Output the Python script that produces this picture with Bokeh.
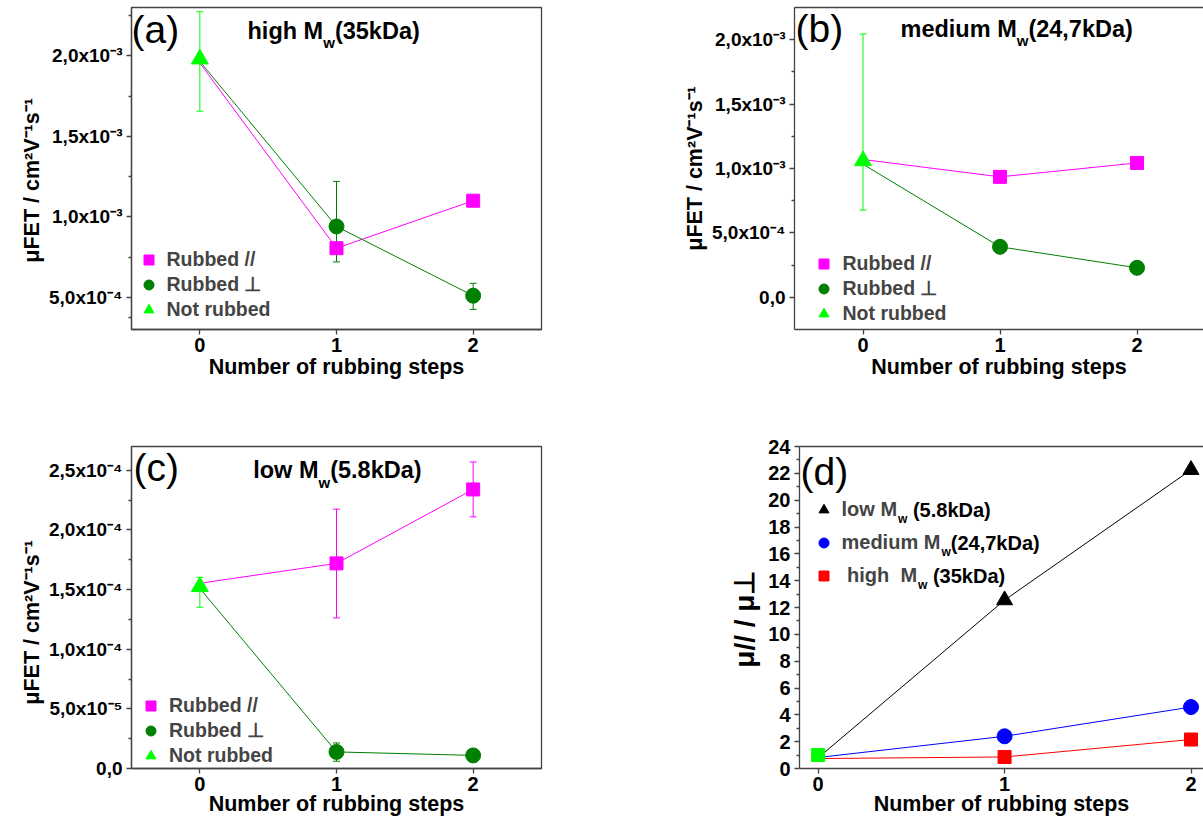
import math
from bokeh.plotting import figure
from bokeh.models import (Range1d, LinearAxis, FixedTicker, Whisker, TeeHead,
                          ColumnDataSource, Legend, LegendItem, Label)
from bokeh.layouts import row, column
from bokeh.embed import file_html
from bokeh.resources import INLINE

# ---------------- data ----------------
steps = [0, 1, 2]
x_labels = ["0", "1", "2"]

# (a) high Mw (35 kDa)
a_par = [1.955e-3, 8.05e-4, 1.10e-3]
a_perp = [1.965e-3, 9.40e-4, 5.10e-4]
a_perp_up = [0.0, 2.80e-4, 7.7e-5]
a_perp_dn = [0.0, 2.20e-4, 8.5e-5]
a_not = [1.98e-3]
a_not_up = [2.94e-4]
a_not_dn = [3.24e-4]
a_yticks = [5e-4, 1e-3, 1.5e-3, 2e-3]
a_ytick_labels = ["5,0x10⁻⁴", "1,0x10⁻³", "1,5x10⁻³", "2,0x10⁻³"]
a_yminor = [3.75e-4, 7.5e-4, 1.25e-3, 1.75e-3, 2.25e-3]

# (b) medium Mw (24,7 kDa)
b_par = [1.070e-3, 9.35e-4, 1.043e-3]
b_perp = [1.033e-3, 3.92e-4, 2.29e-4]
b_perp_up = [0.0, 1.5e-5, 3.5e-5]
b_perp_dn = [0.0, 1.5e-5, 3.5e-5]
b_not = [1.06e-3]
b_not_up = [9.84e-4]
b_not_dn = [3.83e-4]
b_yticks = [0.0, 5e-4, 1e-3, 1.5e-3, 2e-3]
b_ytick_labels = ["0,0", "5,0x10⁻⁴", "1,0x10⁻³", "1,5x10⁻³", "2,0x10⁻³"]
b_yminor = [2.5e-4, 7.5e-4, 1.25e-3, 1.75e-3]

# (c) low Mw (5.8 kDa)
c_par = [1.553e-4, 1.72e-4, 2.34e-4]
c_par_up = [0.0, 4.55e-5, 2.3e-5]
c_par_dn = [0.0, 4.57e-5, 2.3e-5]
c_perp = [1.51e-4, 1.39e-5, 1.1e-5]
c_perp_up = [0.0, 7.5e-6, 0.0]
c_perp_dn = [0.0, 7.8e-6, 0.0]
c_not = [1.525e-4]
c_not_up = [7.8e-6]
c_not_dn = [1.73e-5]
c_yticks = [0.0, 5e-5, 1e-4, 1.5e-4, 2e-4, 2.5e-4]
c_ytick_labels = ["0,0", "5,0x10⁻⁵", "1,0x10⁻⁴", "1,5x10⁻⁴", "2,0x10⁻⁴", "2,5x10⁻⁴"]
c_yminor = [2.5e-5, 7.5e-5, 1.25e-4, 1.75e-4, 2.25e-4]

# (d) anisotropy ratio mu// / mu_perp
d_low = [0.80, 12.55, 22.26]
d_med = [0.82, 2.40, 4.58]
d_high = [0.74, 0.86, 2.16]
d_start = [1.0]
d_yticks = [0, 2, 4, 6, 8, 10, 12, 14, 16, 18, 20, 22, 24]
d_ytick_labels = ["0", "2", "4", "6", "8", "10", "12", "14", "16", "18", "20", "22", "24"]
d_yminor = [1, 3, 5, 7, 9, 11, 13, 15, 17, 19, 21, 23]

# ---------------- style ----------------
FONT = "Liberation Sans"
AX = "#444444"
MAG = "#FF00FF"
DGREEN = "#008000"
LIME = "#00FF00"
NB = "\u00a0"
XTITLE = "Number of rubbing steps"
YTITLE = "μFET / cm²V⁻¹s⁻¹"

W = {' ': 278, NB: 278, '(': 333, ')': 333, ',': 278, '.': 278, 'a': 556, 'd': 611,
     'e': 556, 'g': 611, 'h': 611, 'i': 278, 'k': 556, 'l': 278, 'm': 889,
     'o': 611, 'u': 611, 'w': 778, 'D': 722, 'M': 833}


def tw(s, size):
    return sum(W.get(c, 556) for c in s) * size / 1000.0


def to_data(g, px, py):
    x = g["x0"] + (px - g["L"]) / (g["R"] - g["L"]) * (g["x1"] - g["x0"])
    y = g["y1"] - (py - g["T"]) / (g["B"] - g["T"]) * (g["y1"] - g["y0"])
    return x, y


def txt(p, g, px, py, text, size, bold=True, align="left"):
    x, y = to_data(g, px, py)
    p.add_layout(Label(x=x, y=y, text=text, text_font=FONT, text_font_size=f"{size}px",
                       text_font_style="bold" if bold else "normal", text_color="black",
                       text_align=align, text_baseline="middle"))


def pieces(p, g, px, py, parts):
    """parts: list of (text, size, dy); py is the vertical middle of the main text"""
    x = px
    for t, s, dy in parts:
        txt(p, g, x, py + dy, t, s)
        x += tw(t, s)


def make_fig(g, w, h, L, R, T, B, outline=True):
    p = figure(width=w, height=h, x_range=Range1d(g["x0"], g["x1"]),
               y_range=Range1d(g["y0"], g["y1"]), output_backend="svg",
               toolbar_location=None, x_axis_type=None, y_axis_type=None,
               min_border_left=L, min_border_right=R, min_border_top=T, min_border_bottom=B)
    p.background_fill_color = "white"
    p.border_fill_color = "white"
    if outline:
        p.outline_line_color = AX
        p.outline_line_width = 1.3
    else:
        p.outline_line_color = None
    return p


def style_axis(ax):
    ax.axis_line_color = AX
    ax.axis_line_width = 1.3
    ax.major_tick_line_color = AX
    ax.major_tick_line_width = 1.3
    ax.minor_tick_line_color = AX
    ax.minor_tick_line_width = 1.3
    ax.major_tick_in = 0
    ax.minor_tick_in = 0
    ax.major_label_text_font = FONT
    ax.major_label_text_font_style = "bold"
    ax.major_label_text_color = "black"
    ax.axis_label_text_font = FONT
    ax.axis_label_text_font_style = "bold"
    ax.axis_label_text_color = "black"


def add_axes(p, yticks, ylabels, yminor, ytitle, ytitle_size, ytick_size,
             ytitle_standoff, xtitle_standoff, top=False):
    xa = LinearAxis(ticker=FixedTicker(ticks=steps, minor_ticks=[]),
                    major_label_overrides=dict(zip(steps, x_labels)),
                    axis_label=XTITLE)
    style_axis(xa)
    xa.major_label_text_font_size = "20px"
    xa.major_tick_out = 5
    xa.major_label_standoff = 3
    xa.axis_label_text_font_size = "21.5px"
    xa.axis_label_standoff = xtitle_standoff
    p.add_layout(xa, "below")

    ya = LinearAxis(ticker=FixedTicker(ticks=yticks, minor_ticks=yminor),
                    major_label_overrides=dict(zip(yticks, ylabels)),
                    axis_label=ytitle)
    style_axis(ya)
    ya.major_label_text_font_size = f"{ytick_size}px"
    ya.major_tick_out = 5
    ya.minor_tick_out = 3
    ya.major_label_standoff = 4
    ya.axis_label_text_font_size = f"{ytitle_size}px"
    ya.axis_label_standoff = ytitle_standoff
    p.add_layout(ya, "left")

    if top:
        ta = LinearAxis(ticker=FixedTicker(ticks=[], minor_ticks=[]))
        style_axis(ta)
        ta.major_label_standoff = 0
        ta.major_tick_out = 0
        ta.minor_tick_out = 0
        p.add_layout(ta, "above")


def whisker(p, xs, ys, up, dn, color):
    xx, hi, lo = [], [], []
    for x, y, u, d in zip(xs, ys, up, dn):
        if u > 0 or d > 0:
            xx.append(x)
            hi.append(y + u)
            lo.append(y - d)
    if not xx:
        return
    src = ColumnDataSource(dict(x=xx, upper=hi, lower=lo))
    p.add_layout(Whisker(base="x", upper="upper", lower="lower", source=src,
                         line_color=color, line_width=1,
                         upper_head=TeeHead(size=7, line_color=color, line_width=1),
                         lower_head=TeeHead(size=7, line_color=color, line_width=1)))


def mobility_panel(g, w, h, L, R, T, B, par, perp, notr, errs, yt, yl, ym,
                   outline, legend_loc, standoff, tag, tag_xy, title, title_xy, xts, ypad):
    p = make_fig(g, w, h, L, R, T, B, outline=outline)
    add_axes(p, yt, yl, ym, YTITLE + NB * ypad, 21.5, 19, 2, xts, top=not outline)
    p.line(steps, par, line_color=MAG, line_width=1)
    p.line(steps, perp, line_color=DGREEN, line_width=1)
    r_par = p.scatter(steps[1:], par[1:], marker="square", size=13, fill_color=MAG, line_color=MAG)
    r_perp = p.scatter(steps[1:], perp[1:], marker="circle", size=15, fill_color=DGREEN, line_color=DGREEN)
    r_not = p.scatter([steps[0]], notr, marker="triangle", size=17, fill_color=LIME, line_color=LIME)
    par_up, par_dn, perp_up, perp_dn, not_up, not_dn = errs
    whisker(p, steps, par, par_up, par_dn, MAG)
    whisker(p, steps, perp, perp_up, perp_dn, DGREEN)
    whisker(p, [steps[0]], notr, not_up, not_dn, LIME)
    leg = Legend(items=[LegendItem(label="Rubbed //", renderers=[r_par]),
                        LegendItem(label="Rubbed ⊥", renderers=[r_perp]),
                        LegendItem(label="Not rubbed", renderers=[r_not])],
                 location=legend_loc, padding=0, margin=0, spacing=0,
                 glyph_width=25, glyph_height=25, label_standoff=standoff,
                 label_text_font=FONT, label_text_font_size="19.5px",
                 label_text_font_style="bold", border_line_color=None,
                 background_fill_alpha=0)
    p.add_layout(leg)
    txt(p, g, tag_xy[0], tag_xy[1], tag, 39, bold=False)
    pieces(p, g, title_xy[0], title_xy[1],
           [(title[0], 23.5, 0), ("w", 15, 12), (title[1], 23.5, 0)])
    return p


# frame geometry in page pixels (page origin = top-left of the canvas)
GA = dict(L=131, R=541, T=7, B=329, x0=-0.5, x1=2.5, y0=3e-4, y1=2.3e-3)
GB = dict(L=794, R=1203, T=7, B=329, x0=-0.5, x1=2.485, y0=-2.5e-4, y1=2.25e-3)
GC = dict(L=131, R=541, T=446, B=768, x0=-0.5, x1=2.5, y0=0.0, y1=2.7e-4)
GD = dict(L=799, R=1203, T=446, B=768, x0=-0.1, x1=2.067, y0=0.0, y1=24.0)

pa = mobility_panel(GA, 600, 392, 131, 59, 7, 63, a_par, a_perp, a_not,
                    ([0, 0, 0], [0, 0, 0], a_perp_up, a_perp_dn, a_not_up, a_not_dn),
                    a_yticks, a_ytick_labels, a_yminor, True, (4.5, 7.5), 6,
                    "(a)", (131, 29), ("high M", "(35kDa)"), (247, 30), 0, 4)

pb = mobility_panel(GB, 603, 392, 194, 0, 7, 63, b_par, b_perp, b_not,
                    ([0, 0, 0], [0, 0, 0], b_perp_up, b_perp_dn, b_not_up, b_not_dn),
                    b_yticks, b_ytick_labels, b_yminor, False, (16.5, 3.5), 7,
                    "(b)", (795, 28), ("medium M", "(24,7kDa)"), (900, 28), 0, 0)

pc = mobility_panel(GC, 600, 430, 131, 59, 54, 54, c_par, c_perp, c_not,
                    (c_par_up, c_par_dn, c_perp_up, c_perp_dn, c_not_up, c_not_dn),
                    c_yticks, c_ytick_labels, c_yminor, True, (7, 0), 6,
                    "(c)", (133, 467), ("low M", "(5.8kDa)"), (252.7, 469.5), -2, 5)

# (d)
pd = make_fig(GD, 603, 430, 199, 0, 54, 54, outline=False)
add_axes(pd, d_yticks, d_ytick_labels, d_yminor, "μ// / μ⊥" + NB * 3, 28, 20, 5, -2, top=True)
pd.line(steps, d_low, line_color="black", line_width=1)
pd.line(steps, d_med, line_color="blue", line_width=1)
pd.line(steps, d_high, line_color="red", line_width=1)
r_low = pd.scatter(steps[1:], d_low[1:], marker="triangle", size=16, color="black")
r_med = pd.scatter(steps[1:], d_med[1:], marker="circle", size=15, color="blue")
r_high = pd.scatter(steps[1:], d_high[1:], marker="square", size=13, color="red")
pd.scatter([steps[0]], d_start, marker="square", size=13, color=LIME)
leg_d = Legend(items=[LegendItem(label="low M", renderers=[r_low]),
                      LegendItem(label="medium M", renderers=[r_med]),
                      LegendItem(label=NB + "high" + NB + NB + "M", renderers=[r_high])],
               location=(11.5, 180), padding=0, margin=0, spacing=8,
               glyph_width=25, glyph_height=25, label_standoff=6,
               label_text_font=FONT, label_text_font_size="20px",
               label_text_font_style="bold", border_line_color=None,
               background_fill_alpha=0)
pd.add_layout(leg_d)
for first, rest, ry in [("low M", NB + "(5.8kDa)", 509.3),
                        ("medium M", "(24,7kDa)", 542.3),
                        (NB + "high" + NB + NB + "M", NB + "(35kDa)", 575.3)]:
    x0 = 842 + tw(first, 20)
    txt(pd, GD, x0, ry + 9, "w", 12)
    txt(pd, GD, x0 + tw("w", 12), ry, rest, 20)
txt(pd, GD, 800, 470.5, "(d)", 39, bold=False)

layout = column(row(pa, pb), row(pc, pd))
open("out.html", "w").write(file_html(layout, INLINE))
